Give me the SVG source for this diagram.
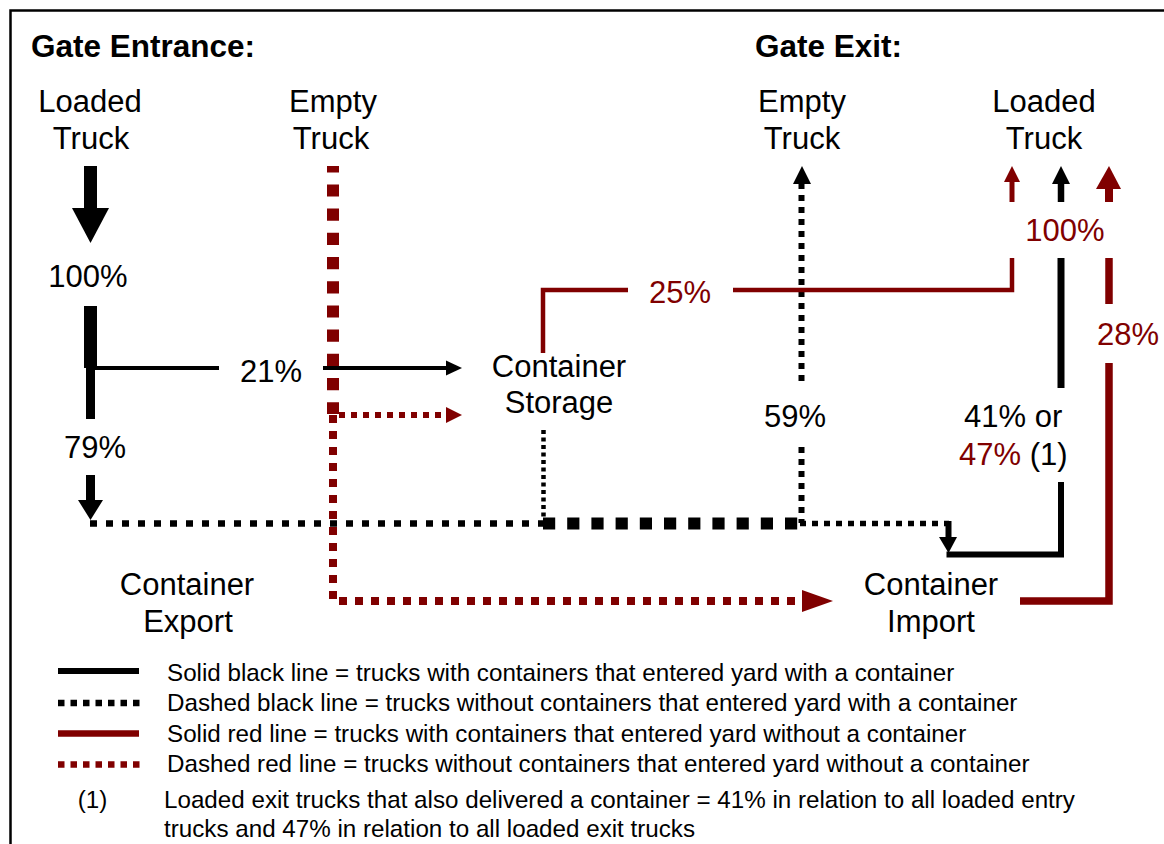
<svg xmlns="http://www.w3.org/2000/svg" width="1164" height="844" viewBox="0 0 1164 844">
<style>
text{font-family:"Liberation Sans",Arial,Helvetica,sans-serif;fill:#000}
.lbl{font-size:31px;text-anchor:middle}
.hdr{font-size:31.5px;font-weight:bold}
.red{fill:#800000}
.leg{font-size:24.2px}
.k{stroke:#000;fill:none}
.r{stroke:#800000;fill:none}
.kf{fill:#000;stroke:none}
.rf{fill:#800000;stroke:none}
</style>
<rect x="0" y="0" width="1164" height="844" fill="#fff"/>
<rect x="10.5" y="10.5" width="1200" height="900" fill="none" stroke="#000" stroke-width="2.5"/>

<g id="connectors">
  <!-- Loaded truck entrance arrow -->
  <line class="k" x1="90.5" y1="166" x2="90.5" y2="210" stroke-width="13"/>
  <polygon class="kf" points="72,208 109,208 90.5,243"/>
  <!-- split bar -->
  <line class="k" x1="90.5" y1="306" x2="90.5" y2="368" stroke-width="13"/>
  <line class="k" x1="90.5" y1="366" x2="90.5" y2="419" stroke-width="9"/>
  <!-- 21% to storage -->
  <line class="k" x1="95" y1="368" x2="219" y2="368" stroke-width="4"/>
  <line class="k" x1="323" y1="368" x2="448" y2="368" stroke-width="4"/>
  <polygon class="kf" points="446,360.5 462,368 446,375.5"/>
  <!-- 79% arrow -->
  <line class="k" x1="90.5" y1="475" x2="90.5" y2="502" stroke-width="9"/>
  <polygon class="kf" points="78,500 103,500 90.5,520"/>
  <!-- black dashed flows to import -->
  <line class="k" x1="90" y1="523.5" x2="543" y2="523.5" stroke-width="6.5" stroke-dasharray="7 9"/>
  <line class="k" x1="543" y1="523.5" x2="800" y2="523.5" stroke-width="12" stroke-dasharray="12.2 12"/>
  <line class="k" x1="800" y1="523.5" x2="949" y2="523.5" stroke-width="5.5" stroke-dasharray="6 6"/>
  <line class="k" x1="543.5" y1="430" x2="543.5" y2="520" stroke-width="4.5" stroke-dasharray="4 3.5"/>
  <line class="k" x1="948.5" y1="521" x2="948.5" y2="539" stroke-width="6"/>
  <polygon class="kf" points="939,537 957,537 948.5,553"/>
  <!-- empty exit dotted -->
  <line class="k" x1="801.5" y1="183" x2="801.5" y2="383" stroke-width="6" stroke-dasharray="6 6"/>
  <line class="k" x1="801.5" y1="447" x2="801.5" y2="523" stroke-width="6" stroke-dasharray="6 6"/>
  <polygon class="kf" points="793,184 811,184 802,166"/>
  <!-- solid black from import to loaded exit -->
  <path class="k" d="M946.5 554.5 H1061 V482" stroke-width="6"/>
  <line class="k" x1="1061" y1="388" x2="1061" y2="258" stroke-width="7"/>
  <line class="k" x1="1061" y1="202" x2="1061" y2="182" stroke-width="6.5"/>
  <polygon class="kf" points="1052,184 1070,184 1061,166"/>
  <!-- empty truck entrance red dashed -->
  <line class="r" x1="333" y1="166" x2="333" y2="414" stroke-width="12" stroke-dasharray="12.2 12" stroke-dashoffset="5.8"/>
  <path class="r" d="M333 415 V601 H803" stroke-width="8" stroke-dasharray="8 8"/>
  <polygon class="rf" points="802,590 833,601 802,612"/>
  <line class="r" x1="339" y1="415" x2="448" y2="415" stroke-width="6" stroke-dasharray="6 6"/>
  <polygon class="rf" points="446,407 462,415 446,423"/>
  <!-- 25% storage to loaded exit -->
  <path class="r" d="M543 353 V290 H628" stroke-width="4.5"/>
  <path class="r" d="M733 290 H1012 V258" stroke-width="4.5"/>
  <line class="r" x1="1012" y1="202" x2="1012" y2="180" stroke-width="5"/>
  <polygon class="rf" points="1004,182 1020,182 1012,166"/>
  <!-- 28% import to loaded exit -->
  <path class="r" d="M1020 601 H1109 V363" stroke-width="7.5"/>
  <line class="r" x1="1109" y1="304" x2="1109" y2="258" stroke-width="7.5"/>
  <line class="r" x1="1109" y1="202" x2="1109" y2="187" stroke-width="8"/>
  <polygon class="rf" points="1096,189 1121,189 1109,166"/>
</g>

<g id="gate-entrance">
  <text class="hdr" x="31" y="57">Gate Entrance:</text>
</g>
<g id="gate-exit">
  <text class="hdr" x="755" y="57">Gate Exit:</text>
</g>
<g id="loaded-truck-in">
  <text class="lbl" x="90" y="112">Loaded</text>
  <text class="lbl" x="91" y="149">Truck</text>
</g>
<g id="empty-truck-in">
  <text class="lbl" x="333" y="112">Empty</text>
  <text class="lbl" x="331" y="149">Truck</text>
</g>
<g id="empty-truck-out">
  <text class="lbl" x="802" y="112">Empty</text>
  <text class="lbl" x="802" y="149">Truck</text>
</g>
<g id="loaded-truck-out">
  <text class="lbl" x="1044" y="112">Loaded</text>
  <text class="lbl" x="1044" y="149">Truck</text>
</g>
<g id="container-storage">
  <text class="lbl" x="559" y="377">Container</text>
  <text class="lbl" x="559" y="413">Storage</text>
</g>
<g id="container-export">
  <text class="lbl" x="187" y="595">Container</text>
  <text class="lbl" x="188" y="632">Export</text>
</g>
<g id="container-import">
  <text class="lbl" x="931" y="595">Container</text>
  <text class="lbl" x="931" y="632">Import</text>
</g>

<g id="percentages">
  <text class="lbl" x="88" y="287">100%</text>
  <text class="lbl" x="271" y="382">21%</text>
  <text class="lbl" x="95" y="458">79%</text>
  <text class="lbl red" x="680" y="303">25%</text>
  <text class="lbl" x="795" y="427">59%</text>
  <text class="lbl red" x="1065" y="241">100%</text>
  <text class="lbl red" x="1128" y="345">28%</text>
  <text style="font-size:31px" x="964" y="427">41% or</text>
  <text style="font-size:31px" x="959" y="465"><tspan class="red">47%</tspan> (1)</text>
</g>

<g id="legend">
  <line class="k" x1="58" y1="671" x2="139" y2="671" stroke-width="6"/>
  <line class="k" x1="58" y1="703" x2="140" y2="703" stroke-width="6.5" stroke-dasharray="6.5 6"/>
  <line class="r" x1="58" y1="733.5" x2="139" y2="733.5" stroke-width="6.5"/>
  <line class="r" x1="58" y1="764.5" x2="140" y2="764.5" stroke-width="6.5" stroke-dasharray="6.5 6"/>
  <text class="leg" x="167" y="681">Solid black line = trucks with containers that entered yard with a container</text>
  <text class="leg" x="167" y="711">Dashed black line = trucks without containers that entered yard with a container</text>
  <text class="leg" x="167" y="742">Solid red line = trucks with containers that entered yard without a container</text>
  <text class="leg" x="167" y="772">Dashed red line = trucks without containers that entered yard without a container</text>
  <text class="leg" x="92.5" y="808" text-anchor="middle">(1)</text>
  <text class="leg" x="164" y="808">Loaded exit trucks that also delivered a container = 41% in relation to all loaded entry</text>
  <text class="leg" x="164" y="837">trucks and 47% in relation to all loaded exit trucks</text>
</g>
</svg>
